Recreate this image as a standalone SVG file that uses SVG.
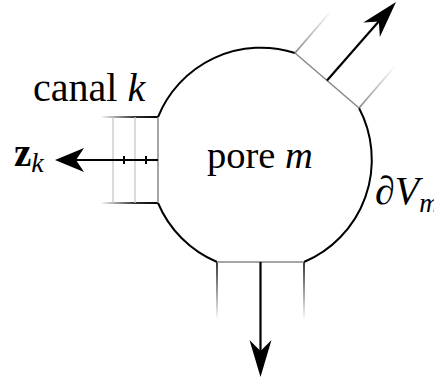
<svg xmlns="http://www.w3.org/2000/svg" width="434" height="385" viewBox="0 0 434 385">
<style>
.txt{font-family:"Liberation Serif","DejaVu Serif",serif;fill:#000}
.it{font-style:italic}
.mouth{stroke:#888;stroke-width:1.5;fill:none}
.cross{stroke:#c8c8c8;stroke-width:1.3}
.wall{stroke-width:1.8;fill:none}
.boundary{stroke:#000;stroke-width:2;fill:none}
.shaft{stroke:#000;stroke-width:2.2;fill:none}
.tick{stroke:#000;stroke-width:2}
</style>
<defs>
<linearGradient id="gL1" gradientUnits="userSpaceOnUse" x1="100" y1="0" x2="158" y2="0">
<stop offset="0" stop-color="#fff"/><stop offset="0.6" stop-color="#333"/><stop offset="1" stop-color="#000"/></linearGradient>
<linearGradient id="gB" gradientUnits="userSpaceOnUse" x1="0" y1="262" x2="0" y2="320">
<stop offset="0" stop-color="#222"/><stop offset="1" stop-color="#fff"/></linearGradient>
<linearGradient id="gT1" gradientUnits="userSpaceOnUse" x1="295" y1="53" x2="332" y2="10">
<stop offset="0" stop-color="#888"/><stop offset="1" stop-color="#fff"/></linearGradient>
<linearGradient id="gT2" gradientUnits="userSpaceOnUse" x1="359" y1="108" x2="396" y2="65">
<stop offset="0" stop-color="#888"/><stop offset="1" stop-color="#fff"/></linearGradient>
<path id="head" d="M0,0 L-37,-11 L-26,0 L-37,11 Z" fill="#000"/>
<path id="headS" d="M0,0 L-29,-12 L-21,0 L-29,12 Z" fill="#000"/>
</defs>

<g id="pore-m">
<path class="boundary" d="M359,108 A111,111 0 0 1 304,262 M217,262 A111,111 0 0 1 158,203 M158,117 A111,111 0 0 1 295,53"/>
<text class="txt" x="207" y="168" font-size="38.5">pore <tspan class="it">m</tspan></text>
<text class="txt" x="375" y="204" font-size="40">∂<tspan class="it">V</tspan><tspan class="it" font-size="27" dy="8">m</tspan></text>
</g>

<g id="canal-k">
<line class="wall" x1="100" y1="117" x2="158" y2="117" stroke="url(#gL1)"/>
<line class="wall" x1="100" y1="203" x2="158" y2="203" stroke="url(#gL1)"/>
<line class="cross" x1="113" y1="117" x2="113" y2="203"/>
<line class="cross" x1="135" y1="117" x2="135" y2="203"/>
<line class="mouth" x1="158" y1="117" x2="158" y2="203"/>
<text class="txt" x="33" y="101" font-size="40">canal <tspan class="it">k</tspan></text>
</g>

<g id="canal-top">
<line class="wall" x1="295" y1="53" x2="332" y2="10" stroke="url(#gT1)"/>
<line class="wall" x1="359" y1="108" x2="396" y2="65" stroke="url(#gT2)"/>
<line class="mouth" x1="295" y1="53" x2="359" y2="108"/>
</g>

<g id="canal-bottom">
<line class="wall" x1="217" y1="262" x2="217" y2="320" stroke="url(#gB)"/>
<line class="wall" x1="304" y1="262" x2="304" y2="320" stroke="url(#gB)"/>
<line class="mouth" x1="217" y1="262" x2="304" y2="262"/>
</g>

<g id="connectors">
<line class="shaft" x1="158" y1="160" x2="74" y2="160"/>
<use href="#headS" transform="translate(55,160) rotate(180)"/>
<line class="tick" x1="124" y1="156" x2="124" y2="164"/>
<line class="tick" x1="146" y1="156" x2="146" y2="164"/>
<line class="shaft" x1="260.5" y1="262" x2="260.5" y2="352"/>
<use href="#head" transform="translate(260.5,377) rotate(90)"/>
<line class="shaft" x1="327" y1="80.5" x2="380" y2="20"/>
<use href="#head" transform="translate(396,2) rotate(-48.7)"/>
</g>

<g id="z-label">
<text class="txt" x="14" y="166" font-size="39" font-weight="bold">z<tspan class="it" font-weight="normal" font-size="28" dy="6">k</tspan></text>
</g>
</svg>
